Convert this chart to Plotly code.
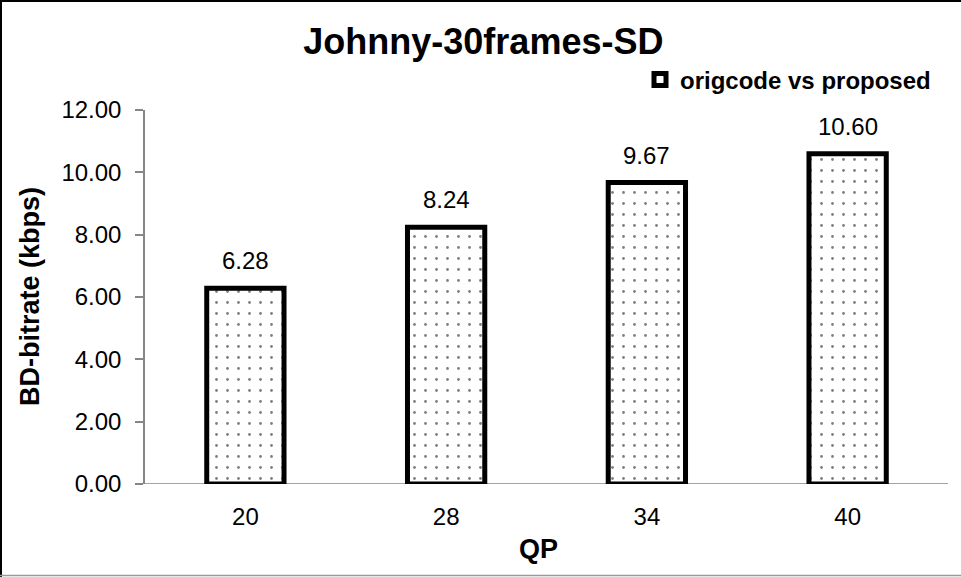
import plotly.graph_objects as go

# Data
qp_labels = ["20", "28", "34", "40"]
bd_bitrate = [6.28, 8.24, 9.67, 10.60]
series_name = "origcode vs proposed"
y_ticks = [0, 2, 4, 6, 8, 10, 12]

W, H = 961, 577
ML, MR, MT, MB = 145, 13, 110, 93
PW, PH = W - ML - MR, H - MT - MB


def px_x(px):
    return (px - ML) / PW


def px_y(py):
    return (H - MB - py) / PH


FONT = "Liberation Sans, Arial, sans-serif"
AXIS_GRAY = "#868686"

fig = go.Figure()
fig.add_trace(go.Bar(
    x=qp_labels,
    y=bd_bitrate,
    name=series_name,
    width=0.385,
    marker=dict(
        color="white",
        line=dict(color="black", width=5),
        pattern=dict(shape=".", fgcolor="black", bgcolor="white", size=11, solidity=0.05),
    ),
    showlegend=True,
    hoverinfo="x+y",
))

# value labels above each bar (category positions by index)
annotations = [
    dict(x=i, y=v, xref="x", yref="y", text=f"{v:.2f}", showarrow=False,
         yanchor="bottom", yshift=12, font=dict(family=FONT, size=24, color="black"))
    for i, v in enumerate(bd_bitrate)
]
# axis titles
annotations += [
    dict(x=px_x(30), y=0.5, xref="paper", yref="paper", text="<b>BD-bitrate (kbps)</b>",
         textangle=-90, showarrow=False, xanchor="center", yanchor="middle",
         font=dict(family=FONT, size=27, color="black")),
    dict(x=px_x(538), y=px_y(549), xref="paper", yref="paper", text="<b>QP</b>",
         showarrow=False, xanchor="center", yanchor="middle",
         font=dict(family=FONT, size=27, color="black")),
]

shapes = [
    # outer chart frame
    dict(type="line", xref="paper", yref="paper", x0=px_x(0), x1=px_x(W), y0=px_y(1), y1=px_y(1),
         line=dict(color="black", width=2)),
    dict(type="line", xref="paper", yref="paper", x0=px_x(1), x1=px_x(1), y0=px_y(0), y1=px_y(H),
         line=dict(color="black", width=2)),
    dict(type="line", xref="paper", yref="paper", x0=px_x(0), x1=px_x(W), y0=px_y(575.5), y1=px_y(575.5),
         line=dict(color="#9a9a9a", width=1.5)),
    # category axis line extending to the left under the zero tick
    dict(type="line", xref="paper", yref="y", x0=px_x(137), x1=1, y0=0, y1=0,
         line=dict(color=AXIS_GRAY, width=1.5), layer="below"),
]

fig.update_layout(
    width=W, height=H, autosize=False,
    margin=dict(l=ML, r=MR, t=MT, b=MB, pad=0),
    paper_bgcolor="white", plot_bgcolor="white",
    font=dict(family=FONT, color="black"),
    title=dict(text="<b>Johnny-30frames-SD</b>", x=0.503, xanchor="center", xref="container",
               y=1 - 41 / H, yanchor="middle", yref="container",
               font=dict(family=FONT, size=36, color="black")),
    showlegend=True,
    legend=dict(x=px_x(936), y=px_y(80), xanchor="right", yanchor="middle",
                bgcolor="rgba(0,0,0,0)", borderwidth=0,
                font=dict(family=FONT, size=24, color="black", weight="bold"),
                itemwidth=30),
    bargap=0.6,
    shapes=shapes,
    annotations=annotations,
)

fig.update_xaxes(
    type="category", range=[-0.5, 3.5], showline=False, showgrid=False, automargin=False,
    ticks="outside", ticklen=11, tickcolor="rgba(0,0,0,0)",
    tickfont=dict(family=FONT, size=24, color="black"),
)
fig.update_yaxes(
    range=[0, 12], tickvals=y_ticks, tickformat=".2f", automargin=False,
    showline=True, linecolor=AXIS_GRAY, linewidth=1.5,
    ticks="outside", ticklen=8, tickcolor=AXIS_GRAY, tickwidth=1.5,
    ticklabelstandoff=9,
    showgrid=False, zeroline=False,
    tickfont=dict(family=FONT, size=24, color="black"),
)

fig.write_html("out.html")
